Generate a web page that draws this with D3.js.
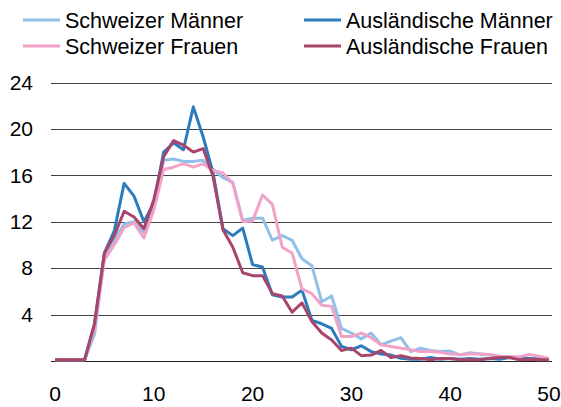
<!DOCTYPE html>
<html>
<head>
<meta charset="utf-8">
<script src="https://cdn.jsdelivr.net/npm/d3@7"></script>
<style>
  body { margin: 0; background: #fff; }
  svg { display: block; font-family: 'Liberation Sans', Arial, sans-serif; }
</style>
</head>
<body>
<div id="chart"></div>
<script>
const ages = d3.range(0, 51);

const schweizerMaenner = [
  0.1, 0.1, 0.1, 0.1, 2.3, 9.0, 10.4, 11.8, 12.0, 11.1,
  13.3, 17.3, 17.4, 17.2, 17.2, 17.3, 16.5, 15.8, 15.4, 12.1,
  12.3, 12.3, 10.4, 10.8, 10.4, 8.8, 8.2, 5.1, 5.6, 2.8,
  2.4, 1.9, 2.4, 1.4, 1.7, 2.0, 0.8, 1.1, 0.9, 0.8,
  0.85, 0.5, 0.7, 0.6, 0.5, 0.4, 0.35, 0.3, 0.2, 0.2, 0.1,
];
const auslaendischeMaenner = [
  0.1, 0.1, 0.1, 0.1, 3.2, 9.3, 11.2, 15.3, 14.2, 12.0,
  13.6, 18.0, 18.8, 18.2, 21.9, 19.3, 16.2, 11.4, 10.8, 11.45,
  8.3, 8.1, 5.7, 5.5, 5.5, 6.1, 3.5, 3.2, 2.8, 1.25,
  0.96, 1.3, 0.8, 0.6, 0.5, 0.23, 0.15, 0.15, 0.3, 0.15,
  0.2, 0.15, 0.2, 0.15, 0.2, 0.15, 0.3, 0.2, 0.2, 0.15, 0.1,
];
const schweizerFrauen = [
  0.1, 0.1, 0.1, 0.1, 2.8, 8.7, 10.0, 11.5, 11.9, 10.6,
  13.0, 16.5, 16.7, 17.0, 16.7, 17.0, 16.4, 16.2, 15.3, 12.0,
  12.05, 14.3, 13.5, 9.8, 9.3, 6.2, 5.8, 4.8, 4.7, 2.1,
  2.1, 2.4, 2.0, 1.4, 1.25, 1.1, 0.96, 0.8, 0.8, 0.75,
  0.6, 0.55, 0.6, 0.6, 0.55, 0.4, 0.35, 0.35, 0.55, 0.4, 0.2,
];
const auslaendischeFrauen = [
  0.1, 0.1, 0.1, 0.1, 3.2, 9.3, 10.8, 12.9, 12.4, 11.4,
  13.9, 17.6, 19.0, 18.6, 18.0, 18.3, 15.9, 11.3, 9.8, 7.6,
  7.35, 7.35, 5.8, 5.6, 4.2, 5.0, 3.4, 2.4, 1.8, 0.9,
  1.1, 0.45, 0.5, 0.9, 0.3, 0.45, 0.25, 0.2, 0.1, 0.2,
  0.2, 0.1, 0.1, 0.1, 0.2, 0.3, 0.3, 0.1, 0.15, 0.1, 0.1,
];

const seriesNames = ['Schweizer Männer', 'Ausländische Männer', 'Schweizer Frauen', 'Ausländische Frauen'];
const seriesColors = ['#8fc0ea', '#2b7bbf', '#f2a1c7', '#a8456b'];
const yTicks = [0, 4, 8, 12, 16, 20, 24];
const xTicks = [0, 10, 20, 30, 40, 50];

const series = [schweizerMaenner, auslaendischeMaenner, schweizerFrauen, auslaendischeFrauen].map((vals, i) => ({
  name: seriesNames[i],
  color: seriesColors[i],
  values: vals.map((v, j) => ({ age: ages[j], v })),
}));

const size = { width: 561, height: 407 };

const svg = d3.select('#chart').append('svg')
  .attr('width', size.width)
  .attr('height', size.height);

const x = d3.scaleLinear().domain([0, 50]).range([55, 549]);
const y = d3.scaleLinear().domain([0, 24]).range([360.9, 82.5]);

// gridlines
svg.append('g')
  .selectAll('line')
  .data(yTicks)
  .join('line')
  .attr('x1', 51)
  .attr('x2', 552)
  .attr('y1', (d) => Math.round(y(d)) + 0.5)
  .attr('y2', (d) => Math.round(y(d)) + 0.5)
  .attr('stroke', (d) => (d === 0 ? '#222' : '#444'))
  .attr('stroke-width', 1);

// y labels (no label at 0)
svg.append('g')
  .selectAll('text')
  .data(yTicks.filter((d) => d > 0))
  .join('text')
  .attr('x', 33)
  .attr('y', (d) => y(d))
  .attr('dy', '0.35em')
  .attr('text-anchor', 'end')
  .attr('font-size', 21)
  .attr('fill', '#000')
  .text((d) => d);

// x labels
svg.append('g')
  .selectAll('text')
  .data(xTicks)
  .join('text')
  .attr('x', (d) => x(d))
  .attr('y', 394)
  .attr('dy', '0.35em')
  .attr('text-anchor', 'middle')
  .attr('font-size', 21)
  .attr('fill', '#000')
  .text((d) => d);

const line = d3.line()
  .x((d) => x(d.age))
  .y((d) => y(d.v));

svg.append('g')
  .selectAll('path')
  .data(series)
  .join('path')
  .attr('d', (d) => line(d.values))
  .attr('fill', 'none')
  .attr('stroke', (d) => d.color)
  .attr('stroke-width', 3)
  .attr('stroke-linejoin', 'round');

// legend
const legendPos = [[23, 20], [304, 20], [23, 46], [304, 46]];
const legend = svg.append('g')
  .selectAll('g')
  .data(series)
  .join('g')
  .attr('transform', (d, i) => `translate(${legendPos[i][0]},${legendPos[i][1]})`);

legend.append('line')
  .attr('x1', 0)
  .attr('x2', 37)
  .attr('stroke', (d) => d.color)
  .attr('stroke-width', 3);

legend.append('text')
  .attr('x', 42)
  .attr('dy', '0.35em')
  .attr('font-size', 21.5)
  .attr('fill', '#000')
  .text((d) => d.name);
</script>
</body>
</html>
